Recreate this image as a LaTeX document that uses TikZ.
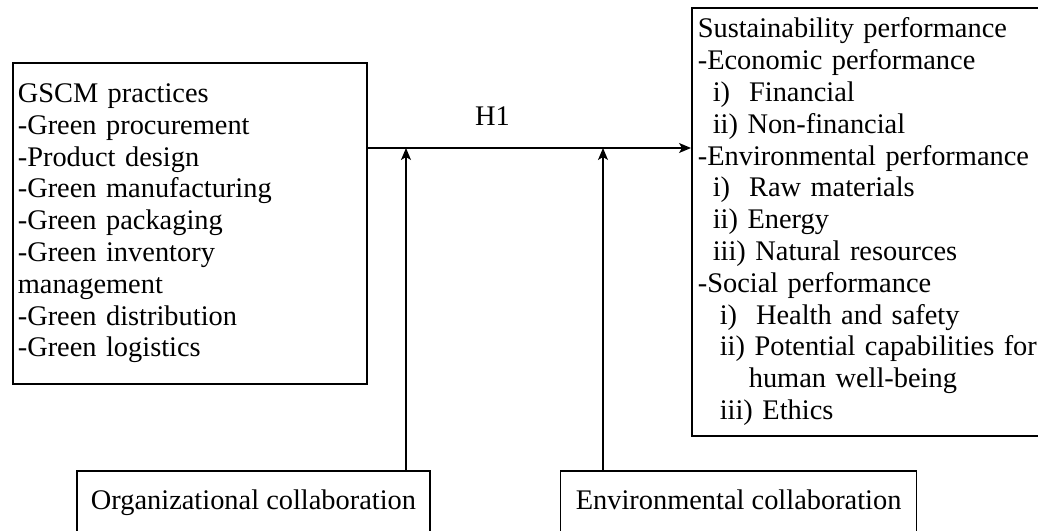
\documentclass[tikz,border=0pt]{standalone}
\usepackage{fontspec}
\setmainfont{Liberation Serif}
\usetikzlibrary{arrows.meta, positioning}

\begin{document}
\begin{tikzpicture}[x=0.5pt, y=-0.5pt,
    blockbox/.style={rectangle, draw=black, line width=0.8pt, fill=white, text=black, font=\fontsize{14.2}{15.9}\selectfont},
    collabbox/.style={blockbox, minimum height=32pt, text height=9.7pt, text depth=3pt},
    linkarrow/.style={-{Stealth[length=6pt, width=5pt, inset=1.5pt]}, line width=0.6pt}]
    \useasboundingbox (0,0) rectangle (1038,530);
    \clip (0,0) rectangle (1038,530);
    \node (gscm) [blockbox, anchor=north west, align=left, text width=172pt, inner xsep=2.5pt, minimum height=160.5pt] at (12,62) {GSCM practices\\-Green procurement\\-Product design\\-Green manufacturing\\-Green packaging\\-Green inventory\\management\\-Green distribution\\-Green logistics};%draws GSCM box
    \node (sust) [blockbox, anchor=north west, align=left, text width=170pt, inner xsep=3pt, minimum height=214pt] at (691,7) {Sustainability performance\\-Economic performance\\\hspace*{7.5pt}i)\ \ Financial\\\hspace*{7.5pt}ii) Non-financial\\-Environmental performance\\\hspace*{7.5pt}i)\ \ Raw materials\\\hspace*{7.5pt}ii) Energy\\\hspace*{7.5pt}iii) Natural resources\\-Social performance\\\hspace*{11pt}i)\ \ Health and safety\\\hspace*{11pt}ii) Potential capabilities for\\\hspace*{25.5pt}human well-being\\\hspace*{11pt}iii) Ethics};%draws sustainability box
    \node (org) [collabbox, minimum width=176.5pt] at (253.5,503) {Organizational collaboration};%draws organizational box
    \node (env) [collabbox, minimum width=178pt, right=64.5pt of org] {Environmental collaboration};%draws environmental box
    \coordinate (h1) at (0,148);%height of H1 line
    \coordinate (m1) at (406,148);%meets H1 line
    \coordinate (m2) at (603,148);%meets H1 line
    \draw[linkarrow] (gscm.east |- h1) to node[above=11pt, inner sep=0pt, pos=0.386, font=\fontsize{14.2}{15.9}\selectfont]{H1} (sust.west |- h1);%connects gscm to sust
    \draw[linkarrow] (org.north -| m1) to (m1);%connects org to H1
    \draw[linkarrow] (env.north -| m2) to (m2);%connects env to H1
\end{tikzpicture}
\end{document}
